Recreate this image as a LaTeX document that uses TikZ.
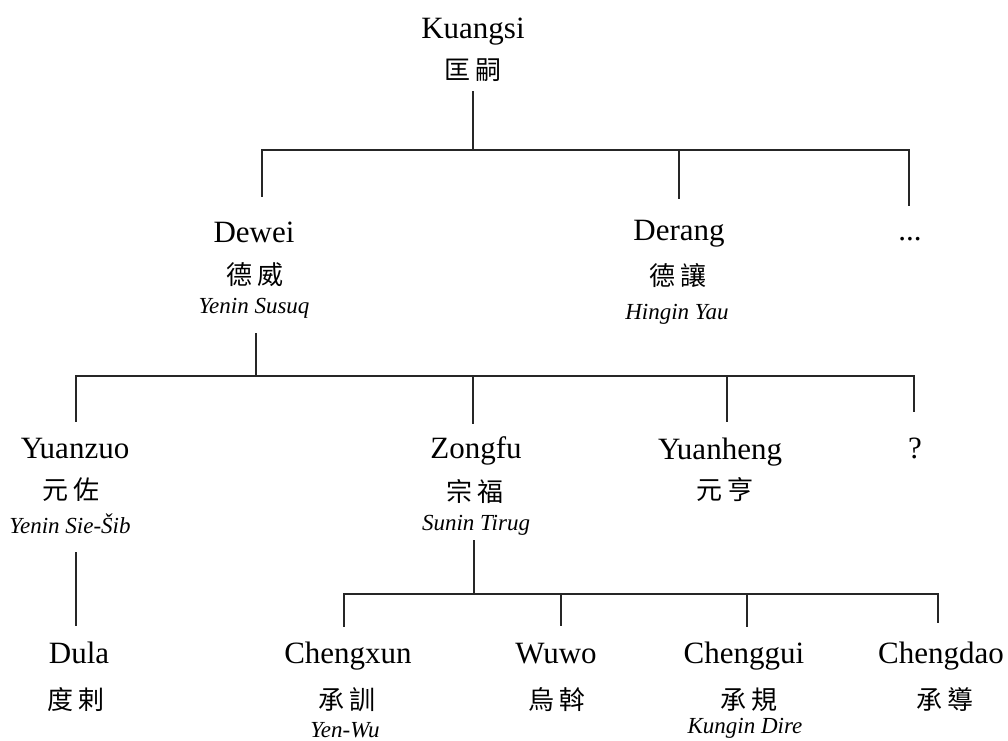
\documentclass[tikz,border=0pt]{standalone}
\usepackage{fontspec}
\setmainfont{Liberation Serif}
\newfontfamily\cjkfont{Noto Sans CJK TC}
\newcommand{\zz}[2]{#1\hspace{6pt}#2}
\tikzset{
  conn/.style={line width=1.6pt, draw=black!85, line join=miter},
  nm/.style={font=\fontsize{31}{31}\selectfont, inner sep=0pt, text height=20pt, text depth=0pt, anchor=base},
  zh/.style={font=\cjkfont\fontsize{26}{26}\selectfont, inner sep=0pt, text height=20pt, text depth=2pt, anchor=base},
  it/.style={font=\itshape\fontsize{23}{23}\selectfont, inner sep=0pt, text height=14pt, text depth=0pt, anchor=base},
}
\begin{document}
\begin{tikzpicture}[x=1pt,y=-1pt]
\useasboundingbox (0,0) rectangle (1008,740);
% generation 1
\node[nm] (k) at (473,38) {Kuangsi};
\node[zh] (kz) at (473,79) {\zz{匡}{嗣}};
% generation 2
\node[nm] (dw) at (254,242) {Dewei};
\node[zh] (dwz) at (255,284) {\zz{德}{威}};
\node[it] (dwi) at (254,313) {Yenin Susuq};
\node[nm] (dr) at (679,240) {Derang};
\node[zh] (drz) at (678,285) {\zz{德}{讓}};
\node[it] (dri) at (677,319) {Hingin Yau};
\node[nm] (dots) at (910,240) {...};
% generation 3
\node[nm] (yz) at (75,458) {Yuanzuo};
\node[zh] (yzz) at (71,499) {\zz{元}{佐}};
\node[it] (yzi) at (70,533) {Yenin Sie-Šib};
\node[nm] (zf) at (476,458) {Zongfu};
\node[zh] (zfz) at (475,501) {\zz{宗}{福}};
\node[it] (zfi) at (476,530) {Sunin Tirug};
\node[nm] (yh) at (720,459) {Yuanheng};
\node[zh] (yhz) at (725,499) {\zz{元}{亨}};
\node[nm] (q) at (915,458) {?};
% generation 4
\node[nm] (dl) at (79,663) {Dula};
\node[zh] (dlz) at (76,709) {\zz{度}{剌}};
\node[nm] (cx) at (348,663) {Chengxun};
\node[zh] (cxz) at (347,709) {\zz{承}{訓}};
\node[it] (cxi) at (345,737) {Yen-Wu};
\node[nm] (ww) at (556,663) {Wuwo};
\node[zh] (wwz) at (557,709) {\zz{烏}{斡}};
\node[nm] (cg) at (744,663) {Chenggui};
\node[zh] (cgz) at (749,709) {\zz{承}{規}};
\node[it] (cgi) at (745,733) {Kungin Dire};
\node[nm] (cd) at (941,663) {Chengdao};
\node[zh] (cdz) at (945,709) {\zz{承}{導}};
% connector ends
\coordinate (k-out) at ([yshift=-10pt]kz.south);
\coordinate (bar1) at (473,150);
\coordinate (dw-in) at ([xshift=8pt,yshift=25pt]dw.north);
\coordinate (dr-in) at ([yshift=21pt]dr.north);
\coordinate (dots-in) at ([xshift=-1pt,yshift=14pt]dots.north);
\coordinate (dw-out) at ([xshift=2pt,yshift=-20pt]dwi.south);
\coordinate (bar2) at (256,376);
\coordinate (yz-in) at ([xshift=1pt,yshift=16pt]yz.north);
\coordinate (zf-in) at ([xshift=-3pt,yshift=14pt]zf.north);
\coordinate (yh-in) at ([xshift=7pt,yshift=17pt]yh.north);
\coordinate (q-in) at ([xshift=-1pt,yshift=26pt]q.north);
\coordinate (yz-out) at ([xshift=6pt,yshift=-19pt]yzi.south);
\coordinate (zf-out) at ([xshift=-2pt,yshift=-10pt]zfi.south);
\coordinate (bar3) at (474,594);
\coordinate (dl-in) at ([xshift=-3pt,yshift=17pt]dl.north);
\coordinate (cx-in) at ([xshift=-4pt,yshift=16pt]cx.north);
\coordinate (ww-in) at ([xshift=5pt,yshift=17pt]ww.north);
\coordinate (cg-in) at ([xshift=3pt,yshift=16pt]cg.north);
\coordinate (cd-in) at ([xshift=-3pt,yshift=20pt]cd.north);
% connectors
\draw[conn] (k-out) -- (k-out |- bar1);
\draw[conn] (dw-in) -- (dw-in |- bar1) -- (dots-in |- bar1) -- (dots-in);
\draw[conn] (dr-in) -- (dr-in |- bar1);
\draw[conn] (dw-out) -- (dw-out |- bar2);
\draw[conn] (yz-in) -- (yz-in |- bar2) -- (q-in |- bar2) -- (q-in);
\draw[conn] (zf-in) -- (zf-in |- bar2);
\draw[conn] (yh-in) -- (yh-in |- bar2);
\draw[conn] (yz-out) -- (dl-in);
\draw[conn] (zf-out) -- (zf-out |- bar3);
\draw[conn] (cx-in) -- (cx-in |- bar3) -- (cd-in |- bar3) -- (cd-in);
\draw[conn] (ww-in) -- (ww-in |- bar3);
\draw[conn] (cg-in) -- (cg-in |- bar3);
\end{tikzpicture}
\end{document}
